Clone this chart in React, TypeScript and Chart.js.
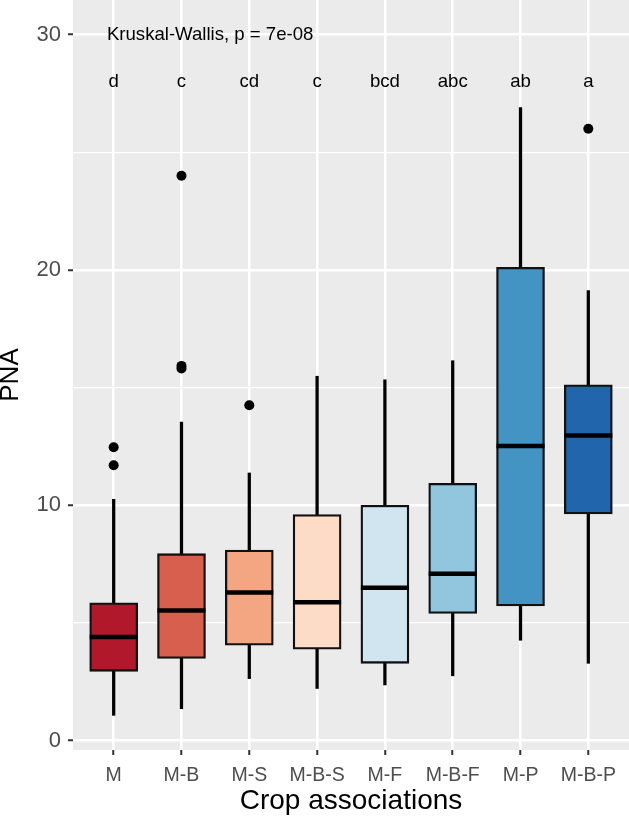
import React, { useEffect, useRef } from 'react';
import { Chart, registerables } from 'chart.js';

Chart.register(...registerables);

// ---- Data ----
const categories = ['M', 'M-B', 'M-S', 'M-B-S', 'M-F', 'M-B-F', 'M-P', 'M-B-P'];
const whiskerLow = [1.07, 1.35, 2.63, 2.21, 2.36, 2.75, 4.26, 3.28];
const q1 = [2.94, 3.49, 4.05, 3.88, 3.28, 5.40, 5.72, 9.63];
const medians = [4.40, 5.52, 6.29, 5.87, 6.49, 7.09, 12.52, 12.96];
const q3 = [5.85, 7.94, 8.09, 9.60, 10.00, 10.93, 20.11, 15.12];
const whiskerHigh = [10.25, 13.53, 11.37, 15.48, 15.33, 16.14, 26.9, 19.12];
const outlierCats = ['M', 'M', 'M-B', 'M-B', 'M-B', 'M-S', 'M-B-P'];
const outlierValues = [12.46, 11.70, 24.0, 15.92, 15.81, 14.25, 26.0];
const letters = ['d', 'c', 'cd', 'c', 'bcd', 'abc', 'ab', 'a'];
const boxColors = ['#B2182B', '#D6604D', '#F4A582', '#FDDBC7', '#D1E5F0', '#92C5DE', '#4393C3', '#2166AC'];
const yTickValues = [0, 5, 10, 15, 20, 25, 30];
const testLabel = 'Kruskal-Wallis, p = 7e-08';
const testLabelY = 30;
const lettersY = 28;

const FONT = '"Liberation Sans", Arial, Helvetica, sans-serif';

export default function App() {
  const ref = useRef<HTMLCanvasElement>(null);

  useEffect(() => {
    document.body.style.margin = '0';
    const canvas = ref.current;
    if (!canvas) return;

    const panelBg = {
      id: 'panelBg',
      beforeDraw(chart: any) {
        const { ctx, chartArea } = chart;
        ctx.save();
        ctx.fillStyle = '#EBEBEB';
        ctx.fillRect(chartArea.left, chartArea.top, chartArea.right - chartArea.left, chartArea.bottom - chartArea.top);
        ctx.restore();
      },
    };

    const annotations = {
      id: 'annotations',
      afterDatasetsDraw(chart: any) {
        const { ctx } = chart;
        const xs = chart.scales.x;
        const ys = chart.scales.y;
        ctx.save();
        ctx.fillStyle = '#000';
        ctx.font = `18.6px ${FONT}`;
        ctx.textBaseline = 'middle';
        ctx.textAlign = 'center';
        letters.forEach((l, i) => {
          ctx.fillText(l, xs.getPixelForValue(i), ys.getPixelForValue(lettersY));
        });
        ctx.textAlign = 'left';
        ctx.fillText(testLabel, xs.getPixelForValue(-0.1), ys.getPixelForValue(testLabelY));
        ctx.restore();
      },
    };

    const idx = categories.map((_, i) => i);

    const chart = new Chart(canvas, {
      type: 'bar',
      data: {
        datasets: [
          {
            type: 'line',
            label: 'outliers',
            data: outlierCats.map((c, i) => ({ x: categories.indexOf(c), y: outlierValues[i] })),
            showLine: false,
            pointRadius: 5,
            pointBackgroundColor: '#000',
            pointBorderWidth: 0,
            order: 0,
          } as any,
          {
            type: 'line',
            label: 'median',
            data: idx.map((i) => ({ x: i, y: medians[i] })),
            showLine: false,
            pointStyle: 'line',
            pointRadius: 24,
            pointBorderWidth: 4.5,
            pointBorderColor: '#000',
            order: 1,
          } as any,
          {
            type: 'bar',
            label: 'box',
            data: idx.map((i) => ({ x: i, y: [q1[i], q3[i]] })),
            backgroundColor: boxColors,
            borderColor: '#111111',
            borderWidth: 2.3,
            borderSkipped: false,
            barThickness: 48,
            grouped: false,
            order: 2,
          } as any,
          {
            type: 'bar',
            label: 'whisker low',
            data: idx.map((i) => ({ x: i, y: [whiskerLow[i], q1[i]] })),
            backgroundColor: '#000',
            borderWidth: 0,
            barThickness: 2.6,
            grouped: false,
            order: 3,
          } as any,
          {
            type: 'bar',
            label: 'whisker high',
            data: idx.map((i) => ({ x: i, y: [q3[i], whiskerHigh[i]] })),
            backgroundColor: '#000',
            borderWidth: 0,
            barThickness: 2.6,
            grouped: false,
            order: 3,
          } as any,
        ],
      },
      options: {
        responsive: false,
        animation: false,
        events: [],
        layout: { padding: 0, autoPadding: false },
        plugins: {
          legend: { display: false },
          tooltip: { enabled: false },
        },
        scales: {
          x: {
            type: 'linear',
            min: -0.6,
            max: 7.6,
            offset: false,
            afterBuildTicks: (s: any) => {
              s.ticks = idx.map((v) => ({ value: v }));
            },
            afterFit: (s: any) => {
              s.height = 68;
              s.paddingLeft = 0;
              s.paddingRight = 0;
              s.paddingTop = 0;
              s.paddingBottom = 0;
            },
            ticks: {
              callback: (v: any) => categories[v as number] ?? '',
              color: '#4D4D4D',
              font: { size: 19.5, family: FONT },
              padding: 8.5,
              autoSkip: false,
              maxRotation: 0,
            },
            grid: {
              offset: false,
              color: '#FFFFFF',
              lineWidth: 2.5,
              tickColor: '#333333',
              tickLength: 5,
              tickWidth: 2,
            },
            border: { display: false },
            title: {
              display: true,
              text: 'Crop associations',
              color: '#000',
              font: { size: 28, family: FONT },
              padding: 0,
            },
          },
          y: {
            type: 'linear',
            min: -0.404,
            max: 31.47,
            afterBuildTicks: (s: any) => {
              s.ticks = yTickValues.map((v) => ({ value: v }));
            },
            afterFit: (s: any) => {
              s.width = 73;
              s.paddingLeft = 0;
              s.paddingRight = 0;
              s.paddingTop = 0;
              s.paddingBottom = 0;
            },
            ticks: {
              callback: (v: any) => ((v as number) % 10 === 0 ? String(v) : ''),
              color: '#4D4D4D',
              font: { size: 22, family: FONT },
              padding: 7,
              autoSkip: false,
            },
            grid: {
              color: '#FFFFFF',
              lineWidth: (c: any) => (c.tick && c.tick.value % 10 === 0 ? 2.5 : 1.2),
              tickColor: (c: any) => (c.tick && c.tick.value % 10 === 0 ? '#333333' : 'rgba(0,0,0,0)'),
              tickLength: 5,
              tickWidth: 2,
            },
            border: { display: false },
            title: {
              display: true,
              text: 'PNA',
              color: '#000',
              font: { size: 26, family: FONT, lineHeight: 0.85 },
              padding: 0,
            },
          },
        },
      } as any,
      plugins: [panelBg, annotations],
    });

    return () => chart.destroy();
  }, []);

  return <canvas ref={ref} width={629} height={818} style={{ display: 'block' }} />;
}
